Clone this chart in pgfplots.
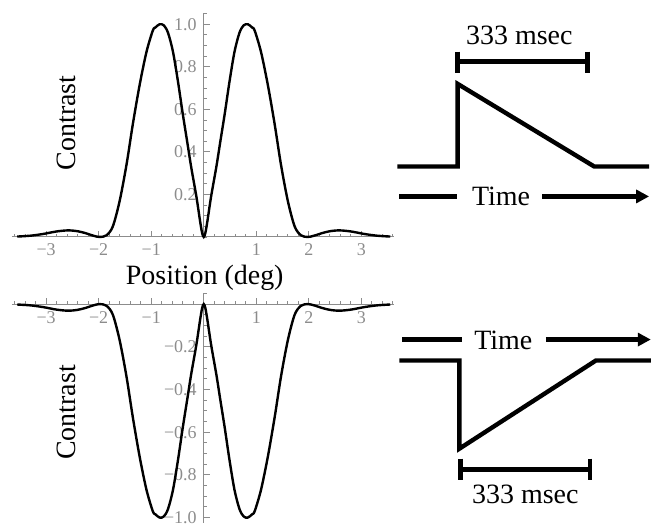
\documentclass[border=0pt]{standalone}
\usepackage{pgfplots}
\pgfplotsset{compat=1.18}
\usepackage{pgfplotstable}
\usepackage{fontspec}
\setmainfont{Liberation Serif}
\usetikzlibrary{arrows.meta}
\definecolor{axgray}{RGB}{140,140,140}

% contrast profile (lower panel is its negative)
\pgfplotstableread{
x c
-3.55 0.002
-3.30 0.006
-3.06 0.014
-2.80 0.026
-2.58 0.031
-2.40 0.027
-2.25 0.018
-2.10 0.006
-1.98 0.000
-1.85 0.008
-1.73 0.050
-1.60 0.170
-1.47 0.340
-1.35 0.530
-1.22 0.715
-1.09 0.870
-0.97 0.970
-0.92 0.985
-0.84 1.000
-0.76 0.995
-0.68 0.960
-0.585 0.870
-0.49 0.730
-0.40 0.580
-0.31 0.440
-0.24 0.330
-0.14 0.190
-0.07 0.075
-0.03 0.018
0.00 0.000
0.03 0.018
0.07 0.075
0.14 0.190
0.24 0.330
0.31 0.440
0.40 0.580
0.49 0.730
0.585 0.870
0.68 0.960
0.76 0.995
0.84 1.000
0.92 0.985
0.97 0.970
1.09 0.870
1.22 0.715
1.35 0.530
1.47 0.340
1.60 0.170
1.73 0.050
1.85 0.008
1.98 0.000
2.10 0.006
2.25 0.018
2.40 0.027
2.58 0.031
2.80 0.026
3.06 0.014
3.30 0.006
3.55 0.002
}\profile

\begin{document}
\begin{tikzpicture}
\pgfplotsset{
  curveax/.style={
    axis lines=middle, scale only axis, width=191.5pt, clip=false,
    anchor=south west,
    xmin=-3.65, xmax=3.63,
    axis line style={axgray, line width=0.5pt, -},
    every tick/.style={axgray, line width=0.4pt},
    major tick length=3pt, minor tick length=1.6pt,
    tick align=inside,
    xtick={-3,-2,-1,0,1,2,3}, xticklabels={−3,−2,−1,,1,2,3},
    minor xtick={-3.6,-3.4,...,3.61},
    tick label style={font=\fontsize{9}{10}\selectfont, text=axgray},
  },
  sch/.style={black, line width=2.2pt, line join=miter, line cap=butt},
}
\def\big{\fontsize{14}{16}\selectfont}

% upper panel
\begin{axis}[curveax, at={(6pt,143.35pt)}, height=112.15pt,
  ymin=0, ymax=1.053,
  ytick={0,0.2,0.4,0.6,0.8,1.0}, yticklabels={,0.2,0.4,0.6,0.8,1.0},
  minor ytick={0,0.05,...,1.051}]
\addplot[black, line width=1.2pt, smooth, tension=0.5] table[x=x, y=c] {\profile};
\end{axis}

% lower panel
\begin{axis}[curveax, at={(6pt,0.2pt)}, height=114.9pt,
  ymin=-1.025, ymax=0.05,
  ytick={-1.0,-0.8,-0.6,-0.4,-0.2,0}, yticklabels={−1.0,−0.8,−0.6,−0.4,−0.2,},
  minor ytick={-1,-0.95,...,0.051}]
\addplot[black, line width=1.2pt, smooth, tension=0.5] table[x=x, y expr=-\thisrow{c}] {\profile};
\end{axis}

% overlay in pixel units: labels and the two time-course sketches
\begin{axis}[at={(0pt,0pt)}, anchor=south west, scale only axis,
  width=326.5pt, height=262pt, xmin=0, xmax=653, ymin=0, ymax=524,
  y dir=reverse, hide axis, clip=false]
\addplot[draw=none] coordinates {(0,0) (653,524)};

\node[font=\big, rotate=90] at (axis cs:66,123) {Contrast};
\node[font=\big, rotate=90] at (axis cs:66,413) {Contrast};
\node[font=\big] at (axis cs:205,278) {Position (deg)};

% upper sketch: step up, linear decay
\addplot[sch] coordinates {(398,166.7) (458.3,166.7) (458.3,84) (595,166.7) (650,166.7)};
\addplot[sch] coordinates {(458.3,61.7) (588.3,61.7)};
\addplot[sch] coordinates {(458.3,51.7) (458.3,72.7)};
\addplot[sch] coordinates {(588.3,51.7) (588.3,72.7)};
\node[font=\big] at (axis cs:520,35) {333 msec};
\addplot[sch] coordinates {(400,196.7) (458,196.7)};
\addplot[sch, -{Triangle[length=6.5pt,width=6.5pt]}] coordinates {(543,196.7) (650,196.7)};
\node[font=\big] at (axis cs:501.7,197) {Time};

% lower sketch: step down, linear recovery
\addplot[sch] coordinates {(403,340) (462.7,340)};
\addplot[sch, -{Triangle[length=6.5pt,width=6.5pt]}] coordinates {(546.7,340) (651.7,340)};
\node[font=\big] at (axis cs:504,340.7) {Time};
\addplot[sch] coordinates {(400,361) (460,361) (460,449.3) (596.7,361) (651.7,361)};
\addplot[sch] coordinates {(461,470) (591,470)};
\addplot[sch] coordinates {(461,459.3) (461,480.7)};
\addplot[sch] coordinates {(591,459.3) (591,480.7)};
\node[font=\big] at (axis cs:526,495) {333 msec};
\end{axis}
\end{tikzpicture}
\end{document}
